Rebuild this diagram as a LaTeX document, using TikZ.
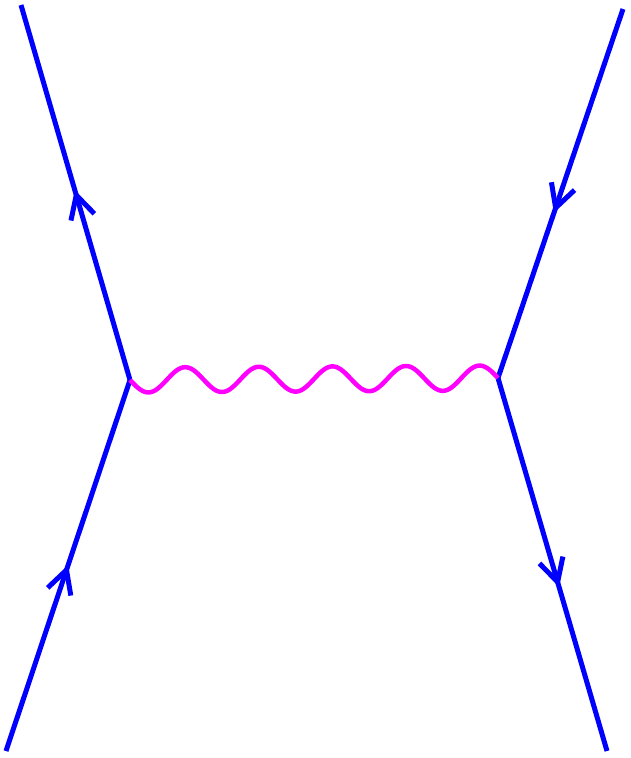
\documentclass[tikz,border=0pt]{standalone}
\usetikzlibrary{calc}
\definecolor{fblue}{RGB}{0,0,255}
\definecolor{fmag}{RGB}{255,0,255}
\begin{document}
\begin{tikzpicture}[x=1pt,y=-1pt,
  fermion/.style={draw=fblue, line width=5pt, line cap=butt},
  barb/.style={draw=fblue, line width=5pt, line cap=butt, line join=round},
  photon/.style={draw=fmag, line width=4.5pt, line cap=butt, line join=round}]
\useasboundingbox (0,0) rectangle (630,758);
\coordinate (v1) at (130,380);
\coordinate (v2) at (498,378);
\coordinate (a) at (6,751);
\coordinate (b) at (21,5);
\coordinate (c) at (623,9);
\coordinate (d) at (607,751);
\draw[fermion] (a) -- (v1);
\draw[fermion] (v1) -- (b);
\draw[fermion] (c) -- (v2);
\draw[fermion] (v2) -- (d);
\draw[photon] plot[domain=0:368, samples=300, smooth]
  ({130+\x}, {380-\x/184+12.5*sin(\x/73.6*360)});
\coordinate (t1) at ($(a)!0.488!(v1)$);
\coordinate (t2) at ($(v1)!0.493!(b)$);
\coordinate (t3) at ($(c)!0.539!(v2)$);
\coordinate (t4) at ($(v2)!0.547!(d)$);
\draw[barb] ($(t1)!26pt!28:(a)$) -- (t1) -- ($(t1)!26pt!-28:(a)$);
\draw[barb] ($(t2)!26pt!28:(v1)$) -- (t2) -- ($(t2)!26pt!-28:(v1)$);
\draw[barb] ($(t3)!26pt!28:(c)$) -- (t3) -- ($(t3)!26pt!-28:(c)$);
\draw[barb] ($(t4)!26pt!28:(v2)$) -- (t4) -- ($(t4)!26pt!-28:(v2)$);
\end{tikzpicture}
\end{document}
